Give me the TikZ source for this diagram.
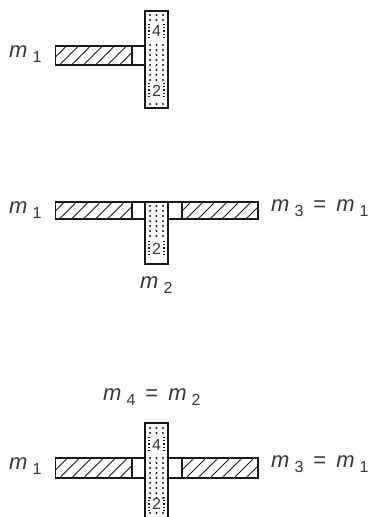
\documentclass[tikz,border=0pt]{standalone}
\usepackage{fontspec}
\setmainfont{Liberation Sans}
\definecolor{inkdark}{RGB}{25,25,25}
\definecolor{labelgray}{RGB}{55,55,55}
\newcommand{\msub}[1]{\textit{m}\hspace{5pt}\raisebox{-5pt}{\fontsize{16}{16}\selectfont #1}}
\newcommand{\dotrows}[1]{%
  \foreach \rowy in {#1} {
    \foreach \colx in {150,156.5,163} {
      \fill[inkdark] (\colx,\rowy) circle (1.1);
    }
  }}
\newcommand{\hatcharm}[4]{%
  \begin{scope}
    \clip (#1,#2) rectangle (#3,#4);
    \foreach \off in {0,12,...,120} {
      \draw[inkdark,line width=0.8pt] (#1+\off-20,#4) -- ++(24,-24);
    }
  \end{scope}
  \draw[barline] (#1,#2) rectangle (#3,#4);}
\newcommand{\digitsides}[2]{%
  \draw[digitbox] (149,#1) -- (149,#2);
  \draw[digitbox] (164,#1) -- (164,#2);}
\tikzset{
  barline/.style={draw=inkdark,line width=1.2pt},
  mlabel/.style={text=labelgray,font=\fontsize{22}{22}\selectfont,inner sep=0pt},
  digit/.style={text=labelgray,font=\fontsize{16}{16}\selectfont,inner sep=0pt},
  digitbox/.style={draw=inkdark,dotted,line width=1.2pt}
}
\begin{document}
\begin{tikzpicture}[x=1pt,y=-1pt]
  \useasboundingbox (0,0) rectangle (371,517);

  % top: one arm and the full upright
  \hatcharm{55.5}{46}{132}{65}
  \draw[barline] (132,46) rectangle (145,65);
  \draw[barline] (145,11) rectangle (168,108);
  \dotrows{15,20,45,50,55,60,65,70,75,80,104}
  \digitsides{24}{38}
  \digitsides{83}{99}
  \node[digit] (upperfour) at (156.5,31) {4};
  \node[digit] (upperlow) at (156.5,90.5) {2};
  \node[mlabel,anchor=west] (topleft) at (9,54) {\msub{1}};

  % middle: two arms and the lower half
  \hatcharm{55.5}{202}{132}{219}
  \draw[barline] (132,202) rectangle (145,219);
  \draw[barline] (168,202) rectangle (182,219);
  \hatcharm{182}{202}{258}{219}
  \draw[barline] (145,202) rectangle (168,264);
  \dotrows{206,211,216,221,226,231,236}
  \digitsides{241}{257}
  \node[digit] (midlow) at (156.5,249) {2};
  \node[mlabel,anchor=west] (midleft) at (9,210) {\msub{1}};
  \node[mlabel,anchor=west] (midright) at (271,208) {\msub{3}\hspace{10pt}=\hspace{10pt}\msub{1}};
  \node[mlabel,anchor=west] (midbelow) at (140,285) {\msub{2}};

  % bottom: two arms and the full upright, cut by the page
  \hatcharm{55.5}{458}{132}{478}
  \draw[barline] (132,458) rectangle (145,478);
  \draw[barline] (168,458) rectangle (182,478);
  \hatcharm{182}{458}{258}{478}
  \fill[white] (145,423) rectangle (168,517);
  \draw[barline] (145,517) -- (145,423) -- (168,423) -- (168,517);
  \dotrows{428,433,458,463,468,473,478,483,488,493,498,513}
  \digitsides{437}{452}
  \digitsides{497}{510}
  \node[digit] (lowfour) at (156.5,445) {4};
  \node[digit] (lowtwo) at (156.5,503.5) {2};
  \node[mlabel,anchor=west] (lowleft) at (9,466) {\msub{1}};
  \node[mlabel,anchor=west] (lowright) at (271,464) {\msub{3}\hspace{10pt}=\hspace{10pt}\msub{1}};
  \node[mlabel,anchor=west] (lowabove) at (103,397) {\msub{4}\hspace{10pt}=\hspace{10pt}\msub{2}};
\end{tikzpicture}
\end{document}
